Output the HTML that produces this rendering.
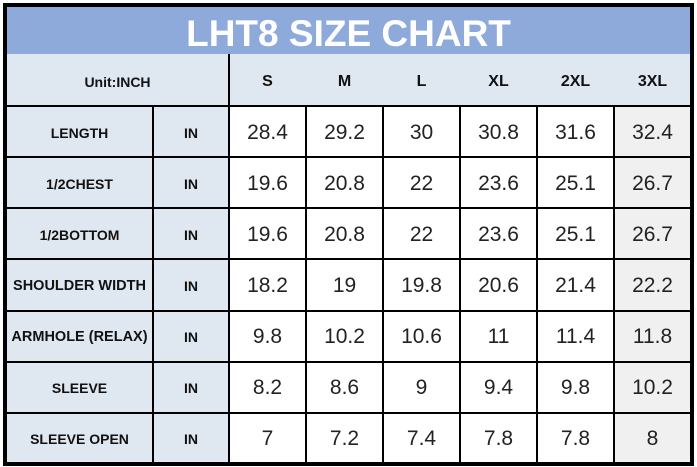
<!DOCTYPE html>
<html><head><meta charset="utf-8"><style>
*{margin:0;padding:0;box-sizing:border-box}
body{width:697px;height:467px;background:#fff;position:relative;overflow:hidden;font-family:"Liberation Sans","DejaVu Sans",sans-serif}
.a{position:absolute}
.c{position:absolute;display:flex;align-items:center;justify-content:center;color:#111}
.lbl{font-weight:bold;font-size:14px}
.v{font-size:21px;color:#222}
.h{font-weight:bold;font-size:16px}
</style></head><body>
<div class="a" style="left:6px;top:6px;width:685px;height:48px;background:#8eaadb"></div>
<div class="c" style="left:6px;top:9px;width:685px;height:50px;color:#fff;font-size:37px;font-weight:bold">LHT8 SIZE CHART</div>
<div class="a" style="left:6px;top:54px;width:685px;height:52px;background:#dfe7f1"></div>
<div class="a" style="left:6px;top:106px;width:223px;height:357px;background:#dfe7f1"></div>
<div class="a" style="left:614px;top:106px;width:77px;height:357px;background:#f0f0f0"></div>
<div class="c" style="left:6px;top:56px;width:223px;height:52px;font-weight:bold;font-size:14px">Unit:INCH</div>
<div class="c h" style="left:229px;top:56px;width:77px;height:52px">S</div>
<div class="c h" style="left:306px;top:56px;width:77px;height:52px">M</div>
<div class="c h" style="left:383px;top:56px;width:77px;height:52px">L</div>
<div class="c h" style="left:460px;top:56px;width:77px;height:52px">XL</div>
<div class="c h" style="left:537px;top:56px;width:77px;height:52px">2XL</div>
<div class="c h" style="left:614px;top:56px;width:77px;height:52px">3XL</div>
<!-- lines -->
<div class="a" style="left:228px;top:54px;width:2px;height:409px;background:#000"></div>
<div class="a" style="left:152px;top:106px;width:2px;height:357px;background:#000"></div>
<div class="a" style="left:305px;top:106px;width:2px;height:357px;background:#000"></div>
<div class="a" style="left:382px;top:106px;width:2px;height:357px;background:#000"></div>
<div class="a" style="left:459px;top:106px;width:2px;height:357px;background:#000"></div>
<div class="a" style="left:536px;top:106px;width:2px;height:357px;background:#000"></div>
<div class="a" style="left:613px;top:106px;width:2px;height:357px;background:#000"></div>
<div class="a" style="left:6px;top:105px;width:685px;height:2px;background:#000"></div>
<div class="a" style="left:6px;top:156px;width:685px;height:2px;background:#000"></div>
<div class="a" style="left:6px;top:207px;width:685px;height:2px;background:#000"></div>
<div class="a" style="left:6px;top:258px;width:685px;height:2px;background:#000"></div>
<div class="a" style="left:6px;top:310px;width:685px;height:2px;background:#000"></div>
<div class="a" style="left:6px;top:361px;width:685px;height:2px;background:#000"></div>
<div class="a" style="left:6px;top:412px;width:685px;height:2px;background:#000"></div>
<div class="a" style="left:3px;top:3px;width:691px;height:463px;border:4px solid #000"></div>

<div class="c lbl" style="left:6px;top:107px;width:147px;height:51px">LENGTH</div>
<div class="c lbl" style="left:6px;top:158px;width:147px;height:51px">1/2CHEST</div>
<div class="c lbl" style="left:6px;top:209px;width:147px;height:51px">1/2BOTTOM</div>
<div class="c lbl" style="left:6px;top:260px;width:147px;height:51px;font-size:14.5px">SHOULDER WIDTH</div>
<div class="c lbl" style="left:6px;top:311px;width:147px;height:51px;font-size:14.5px">ARMHOLE (RELAX)</div>
<div class="c lbl" style="left:6px;top:362px;width:147px;height:51px">SLEEVE</div>
<div class="c lbl" style="left:6px;top:413px;width:147px;height:51px">SLEEVE OPEN</div>

<div class="c lbl" style="left:153px;top:107px;width:76px;height:51px">IN</div>
<div class="c lbl" style="left:153px;top:158px;width:76px;height:51px">IN</div>
<div class="c lbl" style="left:153px;top:209px;width:76px;height:51px">IN</div>
<div class="c lbl" style="left:153px;top:260px;width:76px;height:51px">IN</div>
<div class="c lbl" style="left:153px;top:311px;width:76px;height:51px">IN</div>
<div class="c lbl" style="left:153px;top:362px;width:76px;height:51px">IN</div>
<div class="c lbl" style="left:153px;top:413px;width:76px;height:51px">IN</div>

<div class="c v" style="left:229px;top:107px;width:77px;height:51px">28.4</div>
<div class="c v" style="left:306px;top:107px;width:77px;height:51px">29.2</div>
<div class="c v" style="left:383px;top:107px;width:77px;height:51px">30</div>
<div class="c v" style="left:460px;top:107px;width:77px;height:51px">30.8</div>
<div class="c v" style="left:537px;top:107px;width:77px;height:51px">31.6</div>
<div class="c v" style="left:614px;top:107px;width:77px;height:51px">32.4</div>

<div class="c v" style="left:229px;top:158px;width:77px;height:51px">19.6</div>
<div class="c v" style="left:306px;top:158px;width:77px;height:51px">20.8</div>
<div class="c v" style="left:383px;top:158px;width:77px;height:51px">22</div>
<div class="c v" style="left:460px;top:158px;width:77px;height:51px">23.6</div>
<div class="c v" style="left:537px;top:158px;width:77px;height:51px">25.1</div>
<div class="c v" style="left:614px;top:158px;width:77px;height:51px">26.7</div>

<div class="c v" style="left:229px;top:209px;width:77px;height:51px">19.6</div>
<div class="c v" style="left:306px;top:209px;width:77px;height:51px">20.8</div>
<div class="c v" style="left:383px;top:209px;width:77px;height:51px">22</div>
<div class="c v" style="left:460px;top:209px;width:77px;height:51px">23.6</div>
<div class="c v" style="left:537px;top:209px;width:77px;height:51px">25.1</div>
<div class="c v" style="left:614px;top:209px;width:77px;height:51px">26.7</div>

<div class="c v" style="left:229px;top:260px;width:77px;height:51px">18.2</div>
<div class="c v" style="left:306px;top:260px;width:77px;height:51px">19</div>
<div class="c v" style="left:383px;top:260px;width:77px;height:51px">19.8</div>
<div class="c v" style="left:460px;top:260px;width:77px;height:51px">20.6</div>
<div class="c v" style="left:537px;top:260px;width:77px;height:51px">21.4</div>
<div class="c v" style="left:614px;top:260px;width:77px;height:51px">22.2</div>

<div class="c v" style="left:229px;top:311px;width:77px;height:51px">9.8</div>
<div class="c v" style="left:306px;top:311px;width:77px;height:51px">10.2</div>
<div class="c v" style="left:383px;top:311px;width:77px;height:51px">10.6</div>
<div class="c v" style="left:460px;top:311px;width:77px;height:51px">11</div>
<div class="c v" style="left:537px;top:311px;width:77px;height:51px">11.4</div>
<div class="c v" style="left:614px;top:311px;width:77px;height:51px">11.8</div>

<div class="c v" style="left:229px;top:362px;width:77px;height:51px">8.2</div>
<div class="c v" style="left:306px;top:362px;width:77px;height:51px">8.6</div>
<div class="c v" style="left:383px;top:362px;width:77px;height:51px">9</div>
<div class="c v" style="left:460px;top:362px;width:77px;height:51px">9.4</div>
<div class="c v" style="left:537px;top:362px;width:77px;height:51px">9.8</div>
<div class="c v" style="left:614px;top:362px;width:77px;height:51px">10.2</div>

<div class="c v" style="left:229px;top:413px;width:77px;height:51px">7</div>
<div class="c v" style="left:306px;top:413px;width:77px;height:51px">7.2</div>
<div class="c v" style="left:383px;top:413px;width:77px;height:51px">7.4</div>
<div class="c v" style="left:460px;top:413px;width:77px;height:51px">7.8</div>
<div class="c v" style="left:537px;top:413px;width:77px;height:51px">7.8</div>
<div class="c v" style="left:614px;top:413px;width:77px;height:51px">8</div>
</body></html>
